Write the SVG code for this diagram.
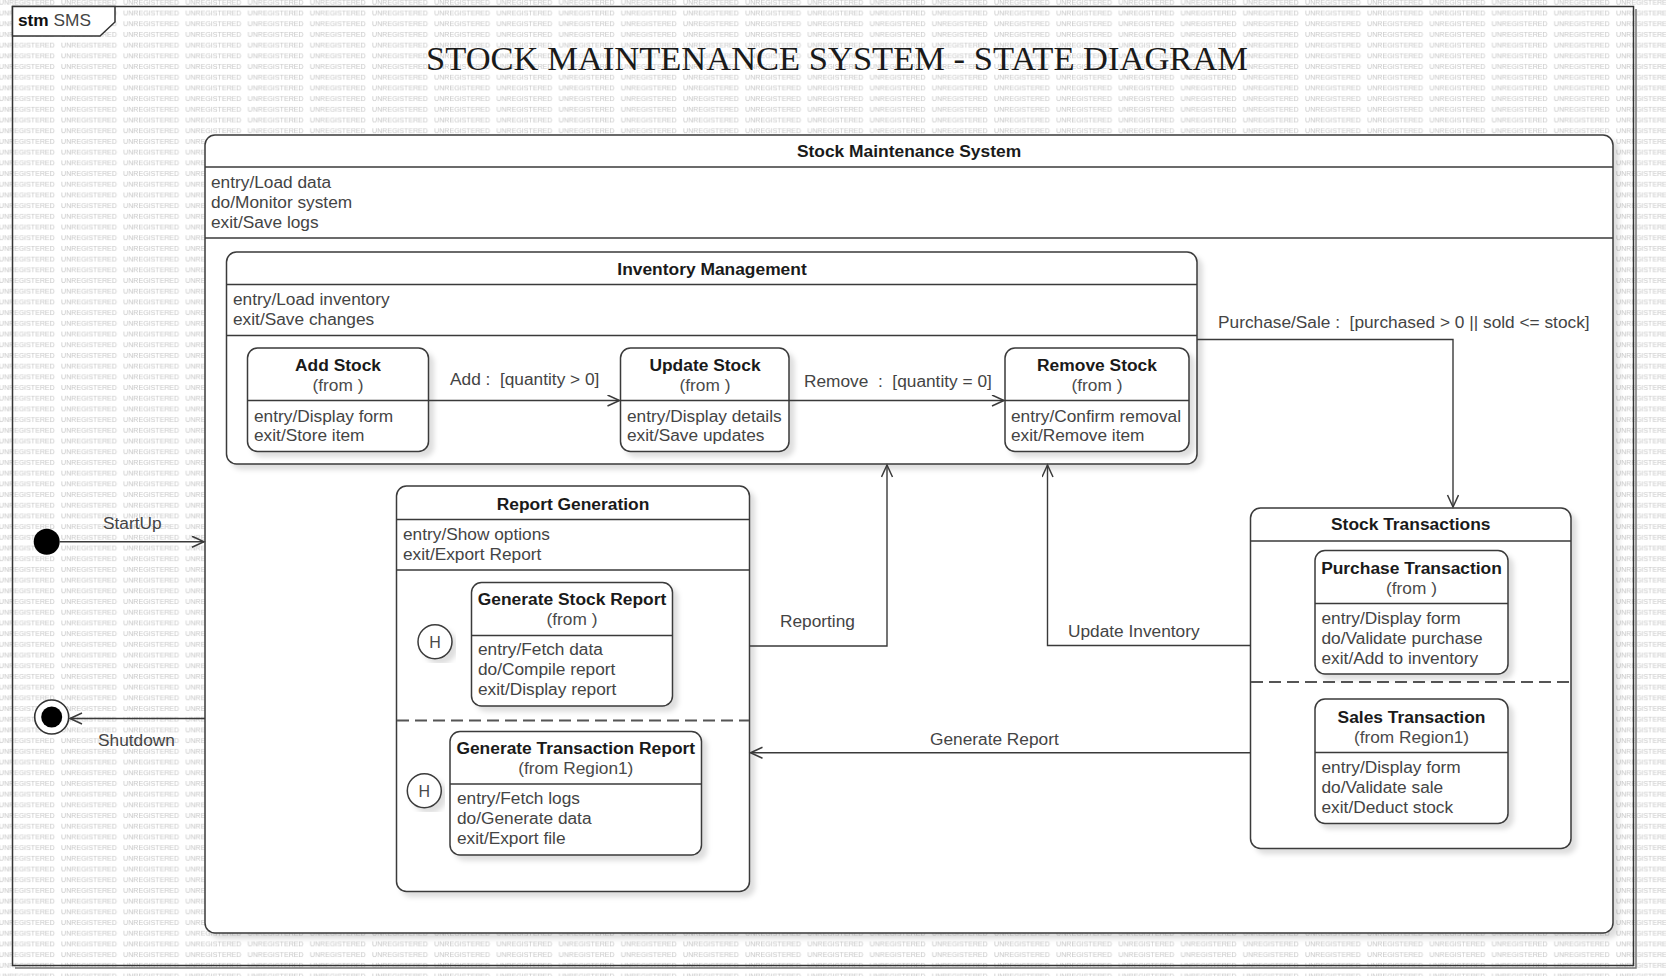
<svg xmlns="http://www.w3.org/2000/svg" width="1666" height="976" viewBox="0 0 1666 976">
<style>
.box{fill:#fff;stroke:#3a3a3a;stroke-width:1.5}
.div{stroke:#3a3a3a;stroke-width:1.5;fill:none}
.dash{stroke:#555;stroke-width:2;stroke-dasharray:12 6;fill:none}
.tt{font-family:"Liberation Sans",Arial,sans-serif;font-size:17.4px;font-weight:bold;fill:#1a1a1a;text-anchor:middle}
.fr{font-family:"Liberation Sans",Arial,sans-serif;font-size:17.3px;fill:#4a4a4a;text-anchor:middle}
.bd{font-family:"Liberation Sans",Arial,sans-serif;font-size:17.3px;fill:#444}
.lb{font-family:"Liberation Sans",Arial,sans-serif;font-size:17.3px;fill:#444;white-space:pre}
.con{stroke:#3a3a3a;stroke-width:1.4;fill:none}
.wm{font-family:"Liberation Sans",Arial,sans-serif;font-size:7.5px;fill:#c6c6c6}
</style>
<defs>
<pattern id="wm" patternUnits="userSpaceOnUse" x="-1.2" y="-4" width="62.2" height="10.7">
<text class="wm" x="0" y="8.3" textLength="56" lengthAdjust="spacingAndGlyphs">UNREGISTERED</text>
</pattern>
<filter id="sh" x="-5%" y="-5%" width="115%" height="115%">
<feDropShadow dx="5" dy="5" stdDeviation="2.5" flood-color="#000" flood-opacity="0.13"/>
</filter>
<marker id="arr" markerUnits="userSpaceOnUse" markerWidth="16" markerHeight="14" refX="13" refY="6" orient="auto">
<path d="M1,0.5 L13,6 L1,11.5" fill="none" stroke="#3a3a3a" stroke-width="1.5"/>
</marker>
</defs>
<rect x="0" y="0" width="1666" height="976" fill="#fff"/>
<rect x="0" y="0" width="1666" height="976" fill="url(#wm)"/>

<g id="frame">
<polyline points="1636,9 1636,968 15,968" fill="none" stroke="#777" stroke-width="1.5"/>
<rect x="12.5" y="6.5" width="1621" height="959" fill="none" stroke="#333" stroke-width="1.5"/>
<path d="M12.5,6.5 H115 V22 L100,36 H12.5 Z" fill="#fff" stroke="#333" stroke-width="1.5"/>
<text x="18" y="26" class="bd" style="fill:#111"><tspan font-weight="bold">stm</tspan><tspan fill="#444"> SMS</tspan></text>
<text x="426" y="70" font-family="'Liberation Serif','Times New Roman',serif" font-size="34" fill="#1a1a1a" textLength="822" lengthAdjust="spacingAndGlyphs">STOCK MAINTENANCE SYSTEM - STATE DIAGRAM</text>
</g>

<g id="sms">
<rect class="box" x="205" y="135" width="1408" height="798" rx="10" filter="url(#sh)"/>
<line class="div" x1="205" y1="167" x2="1613" y2="167"/>
<line class="div" x1="205" y1="238" x2="1613" y2="238"/>
<text class="tt" x="909" y="157">Stock Maintenance System</text>
<text class="bd" x="211" y="188">entry/Load data</text>
<text class="bd" x="211" y="208">do/Monitor system</text>
<text class="bd" x="211" y="228">exit/Save logs</text>
</g>

<g id="inventory-management">
<rect class="box" x="226.5" y="252" width="970.5" height="212" rx="10" filter="url(#sh)"/>
<line class="div" x1="226.5" y1="284.5" x2="1197" y2="284.5"/>
<line class="div" x1="226.5" y1="335.5" x2="1197" y2="335.5"/>
<text class="tt" x="712" y="275">Inventory Management</text>
<text class="bd" x="233" y="305">entry/Load inventory</text>
<text class="bd" x="233" y="325">exit/Save changes</text>
</g>

<g id="add-stock">
<rect class="box" x="247.5" y="348" width="181" height="103.5" rx="10" filter="url(#sh)"/>
<line class="div" x1="247.5" y1="400.5" x2="428.5" y2="400.5"/>
<text class="tt" x="338" y="371">Add Stock</text>
<text class="fr" x="338" y="390.5">(from )</text>
<text class="bd" x="254" y="421.5">entry/Display form</text>
<text class="bd" x="254" y="441">exit/Store item</text>
</g>

<g id="update-stock">
<rect class="box" x="620.5" y="348" width="168.5" height="103.5" rx="10" filter="url(#sh)"/>
<line class="div" x1="620.5" y1="400.5" x2="789" y2="400.5"/>
<text class="tt" x="705" y="371">Update Stock</text>
<text class="fr" x="705" y="390.5">(from )</text>
<text class="bd" x="627" y="421.5">entry/Display details</text>
<text class="bd" x="627" y="441">exit/Save updates</text>
</g>

<g id="remove-stock">
<rect class="box" x="1005" y="348" width="184" height="103.5" rx="10" filter="url(#sh)"/>
<line class="div" x1="1005" y1="400.5" x2="1189" y2="400.5"/>
<text class="tt" x="1097" y="371">Remove Stock</text>
<text class="fr" x="1097" y="390.5">(from )</text>
<text class="bd" x="1011" y="421.5">entry/Confirm removal</text>
<text class="bd" x="1011" y="441">exit/Remove item</text>
</g>

<g id="report-generation">
<rect class="box" x="396.5" y="486" width="353" height="405.5" rx="10" filter="url(#sh)"/>
<line class="div" x1="396.5" y1="519.5" x2="749.5" y2="519.5"/>
<line class="div" x1="396.5" y1="570" x2="749.5" y2="570"/>
<line class="dash" x1="397" y1="720.5" x2="749" y2="720.5"/>
<text class="tt" x="573" y="509.5">Report Generation</text>
<text class="bd" x="403" y="539.5">entry/Show options</text>
<text class="bd" x="403" y="559.5">exit/Export Report</text>
</g>

<g id="history-1">
<circle cx="435" cy="641.7" r="17" fill="#fff" stroke="#3a3a3a" stroke-width="1.5" filter="url(#sh)"/>
<text class="fr" x="435" y="647.5" style="font-size:16px">H</text>
</g>

<g id="generate-stock-report">
<rect class="box" x="471.5" y="582.5" width="201" height="123.5" rx="10" filter="url(#sh)"/>
<line class="div" x1="471.5" y1="635.5" x2="672.5" y2="635.5"/>
<text class="tt" x="572" y="604.5">Generate Stock Report</text>
<text class="fr" x="572" y="624.5">(from )</text>
<text class="bd" x="478" y="655">entry/Fetch data</text>
<text class="bd" x="478" y="675">do/Compile report</text>
<text class="bd" x="478" y="695">exit/Display report</text>
</g>

<g id="history-2">
<circle cx="424.3" cy="790.7" r="17" fill="#fff" stroke="#3a3a3a" stroke-width="1.5" filter="url(#sh)"/>
<text class="fr" x="424.3" y="796.5" style="font-size:16px">H</text>
</g>

<g id="generate-transaction-report">
<rect class="box" x="450" y="731.5" width="251.5" height="123.5" rx="10" filter="url(#sh)"/>
<line class="div" x1="450" y1="784" x2="701.5" y2="784"/>
<text class="tt" x="575.75" y="754">Generate Transaction Report</text>
<text class="fr" x="575.75" y="773.5">(from Region1)</text>
<text class="bd" x="457" y="804">entry/Fetch logs</text>
<text class="bd" x="457" y="824">do/Generate data</text>
<text class="bd" x="457" y="844">exit/Export file</text>
</g>

<g id="stock-transactions">
<rect class="box" x="1250.5" y="508" width="320.5" height="340.5" rx="10" filter="url(#sh)"/>
<line class="div" x1="1250.5" y1="541" x2="1571" y2="541"/>
<line class="dash" x1="1251" y1="682" x2="1570.5" y2="682"/>
<text class="tt" x="1410.75" y="530">Stock Transactions</text>
</g>

<g id="purchase-transaction">
<rect class="box" x="1315" y="550.5" width="193" height="123.5" rx="10" filter="url(#sh)"/>
<line class="div" x1="1315" y1="603.5" x2="1508" y2="603.5"/>
<text class="tt" x="1411.5" y="574">Purchase Transaction</text>
<text class="fr" x="1411.5" y="593.5">(from )</text>
<text class="bd" x="1321.5" y="624">entry/Display form</text>
<text class="bd" x="1321.5" y="644">do/Validate purchase</text>
<text class="bd" x="1321.5" y="664">exit/Add to inventory</text>
</g>

<g id="sales-transaction">
<rect class="box" x="1315" y="699" width="193" height="124.5" rx="10" filter="url(#sh)"/>
<line class="div" x1="1315" y1="752.5" x2="1508" y2="752.5"/>
<text class="tt" x="1411.5" y="723.3">Sales Transaction</text>
<text class="fr" x="1411.5" y="743.3">(from Region1)</text>
<text class="bd" x="1321.5" y="773.3">entry/Display form</text>
<text class="bd" x="1321.5" y="793.3">do/Validate sale</text>
<text class="bd" x="1321.5" y="813.3">exit/Deduct stock</text>
</g>

<g id="initial">
<circle cx="46.7" cy="541.7" r="13" fill="#000"/>
</g>

<g id="final">
<circle cx="51.7" cy="717" r="17" fill="#fff" stroke="#333" stroke-width="1.6"/>
<circle cx="51.7" cy="717" r="10.5" fill="#000"/>
</g>

<g id="connectors">
<line class="con" x1="59.7" y1="541.7" x2="204" y2="541.7" marker-end="url(#arr)"/>
<text class="lb" x="103" y="529">StartUp</text>
<line class="con" x1="205" y1="718.5" x2="70" y2="718.5" marker-end="url(#arr)"/>
<text class="lb" x="98" y="746">Shutdown</text>
<line class="con" x1="428.5" y1="400.5" x2="619.5" y2="400.5" marker-end="url(#arr)"/>
<text class="lb" x="450" y="385">Add :  [quantity &gt; 0]</text>
<line class="con" x1="789" y1="400.5" x2="1004" y2="400.5" marker-end="url(#arr)"/>
<text class="lb" x="804" y="386.5">Remove  :  [quantity = 0]</text>
<polyline class="con" points="1197,339.5 1453,339.5 1453,507" marker-end="url(#arr)"/>
<text class="lb" x="1218" y="328">Purchase/Sale :  [purchased &gt; 0 || sold &lt;= stock]</text>
<polyline class="con" points="749.5,646 887,646 887,465" marker-end="url(#arr)"/>
<text class="lb" x="780" y="627">Reporting</text>
<polyline class="con" points="1250.5,645.5 1047.5,645.5 1047.5,465" marker-end="url(#arr)"/>
<text class="lb" x="1068" y="637">Update Inventory</text>
<line class="con" x1="1250.5" y1="752.7" x2="750.5" y2="752.7" marker-end="url(#arr)"/>
<text class="lb" x="930" y="745">Generate Report</text>
</g>
</svg>
